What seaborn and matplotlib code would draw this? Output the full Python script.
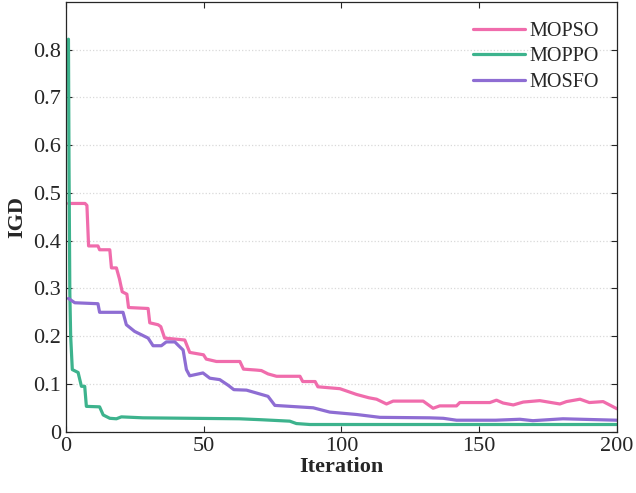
import matplotlib
matplotlib.use("Agg")
import matplotlib.pyplot as plt
import seaborn as sns
import pandas as pd

# MOPSO convergence (iteration, IGD)
mopso_x = [1, 7, 7.7, 8.3, 11.7, 12.3, 16, 16.6, 18.4, 19.5, 20.5, 22.2, 22.8, 29.9, 30.5,
           33.5, 34.5, 35.9, 43.2, 45, 50, 51, 54.7, 63.2, 64.5, 69.2, 71, 73.4, 76.5, 85,
           86, 90.5, 91.5, 99.5, 105.5, 110, 112.8, 116.4, 118.8, 129.7, 133.3, 135.7, 141.8,
           143, 153.9, 156.3, 158.7, 162.4, 166, 172, 179.3, 181.7, 186.6, 190, 195, 200]
mopso_y = [0.478, 0.478, 0.474, 0.389, 0.389, 0.381, 0.381, 0.343, 0.343, 0.32, 0.293, 0.288,
           0.260, 0.258, 0.228, 0.224, 0.220, 0.196, 0.192, 0.166, 0.161, 0.152, 0.147, 0.147,
           0.131, 0.129, 0.128, 0.121, 0.116, 0.116, 0.105, 0.105, 0.094, 0.090, 0.078, 0.071,
           0.068, 0.058, 0.064, 0.064, 0.049, 0.054, 0.054, 0.061, 0.061, 0.066, 0.060, 0.056,
           0.062, 0.065, 0.058, 0.063, 0.068, 0.061, 0.063, 0.048]

# MOPPO convergence
moppo_x = [1, 1.2, 1.5, 1.8, 2.4, 4.5, 5.7, 6.9, 7.5, 12.3, 13.6, 16, 18.4, 20.2, 28, 63,
           71, 81.3, 83.7, 88.6, 200]
moppo_y = [0.822, 0.56, 0.29, 0.20, 0.130, 0.124, 0.095, 0.095, 0.053, 0.052, 0.035, 0.028,
           0.027, 0.031, 0.029, 0.027, 0.025, 0.022, 0.017, 0.015, 0.015]

# MOSFO convergence
mosfo_x = [1, 3.3, 11.7, 12.3, 20.8, 22, 25, 29.9, 31.7, 34.7, 36.5, 39.6, 40.8, 42.6, 43.8,
           45, 49.8, 52.3, 55.9, 59, 61, 65.6, 70.4, 73.4, 75.9, 89.8, 95.8, 105.5, 114, 132,
           137, 141.8, 156, 164.8, 169.5, 180.4, 200]
mosfo_y = [0.279, 0.270, 0.268, 0.250, 0.250, 0.224, 0.210, 0.196, 0.180, 0.180, 0.188,
           0.188, 0.181, 0.171, 0.130, 0.117, 0.123, 0.112, 0.109, 0.097, 0.088, 0.087, 0.079,
           0.074, 0.055, 0.050, 0.041, 0.036, 0.030, 0.029, 0.028, 0.024, 0.024, 0.026, 0.023,
           0.027, 0.024]

names = ["MOPSO", "MOPPO", "MOSFO"]
colors = ["#F06CAC", "#3DB38D", "#8E6DD3"]

frames = []
for name, xs, ys in [("MOPSO", mopso_x, mopso_y), ("MOPPO", moppo_x, moppo_y),
                     ("MOSFO", mosfo_x, mosfo_y)]:
    frames.append(pd.DataFrame({"Iteration": xs, "IGD": ys, "Algorithm": name}))
df = pd.concat(frames, ignore_index=True)

sns.set_theme(style="ticks")
plt.rcParams["font.family"] = ["Liberation Serif", "DejaVu Serif"]

fig = plt.figure(figsize=(6.36, 4.93), dpi=100)
ax = fig.add_axes([0.1033, 0.1244, 0.8667, 0.8716])

sns.lineplot(data=df, x="Iteration", y="IGD", hue="Algorithm", hue_order=names,
             palette=colors, estimator=None, sort=False, linewidth=2.3, ax=ax)

ax.set_xlim(0, 200)
ax.set_ylim(0, 0.9)
ax.set_xticks([0, 50, 100, 150, 200])
ax.set_yticks([0, 0.1, 0.2, 0.3, 0.4, 0.5, 0.6, 0.7, 0.8])
ax.set_yticklabels(["0", "0.1", "0.2", "0.3", "0.4", "0.5", "0.6", "0.7", "0.8"])
ax.tick_params(direction="in", length=4.5, width=0.8, labelsize=16, top=True, right=True,
               colors="#262626")
ax.yaxis.grid(True, linestyle=":", color="#d9d9d9", linewidth=0.9)
for s in ax.spines.values():
    s.set_color("#262626")
    s.set_linewidth(0.9)

ax.set_xlabel("Iteration", fontsize=16, fontweight="bold", labelpad=1)
ax.set_ylabel("IGD", fontsize=16, fontweight="bold", labelpad=4)

ax.legend(title=None, frameon=False, loc="upper right", bbox_to_anchor=(1.0, 0.995),
          fontsize=14.5, handlelength=2.6, handletextpad=0.2, labelspacing=0.3)

fig.savefig("out.png", dpi=100)
